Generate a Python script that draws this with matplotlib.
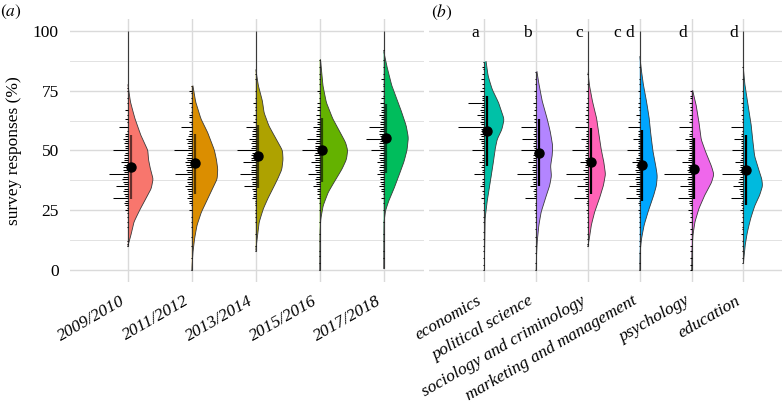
import numpy as np
import matplotlib.pyplot as plt
from matplotlib import transforms

plt.rcParams['font.family'] = ['Liberation Serif', 'Times New Roman', 'DejaVu Serif']
plt.rcParams['mathtext.fontset'] = 'stix'

# ---- panel (a): survey year ----
years = ['2009/2010', '2011/2012', '2013/2014', '2015/2016', '2017/2018']
year_colors = ['#F8766D', '#DB8E00', '#AEA200', '#64B200', '#00BD5C']
year_mean = [43.2, 44.6, 47.9, 50.4, 55.3]
year_bar_lo = [29.6, 31.7, 34.4, 36.8, 40.4]
year_bar_hi = [56.3, 57.0, 60.8, 63.6, 69.6]
year_min = [10, 0, 8, 0, 1]
year_max = [100, 77, 100, 88, 100]
# density outline (value, relative width)
year_dens = [
    [(10, 0), (14, 2.7), (20, 6), (25, 11.7), (30, 18.3), (34, 23.3), (38, 25.3), (42, 22.7),
     (46, 20.7), (50, 20), (56, 13.3), (63, 7.3), (70, 2.7), (77.5, 0)],
    [(0, 0), (7, 1), (13, 2.7), (18.5, 5), (24, 9.3), (29, 15), (34, 20.7), (38, 25.3), (42, 26),
     (46, 24.7), (50, 22.7), (57.4, 16), (63, 9.3), (70, 4), (77, 1)],
    [(8.3, 0), (14.3, 1.7), (19.9, 3.3), (25.4, 7.3), (29.6, 11.7), (33.75, 16.7), (37.9, 21.7),
     (42, 26), (46.2, 27.3), (50, 26.7), (54.6, 20.7), (60.1, 13.3), (65.7, 8.3), (70.6, 6.7),
     (76.8, 2.7), (83.75, 0)],
    [(0, 0), (15.7, 0.3), (21.25, 1), (26.8, 3.3), (32.4, 8.3), (37.9, 16), (42, 22), (46.2, 26.7),
     (50, 28), (53.2, 26), (57.4, 20.7), (63, 13.3), (69.9, 6.7), (76.8, 3.3), (82.4, 2), (88, 0.7)],
    [(1, 0), (19.9, 0.3), (24.7, 1.7), (28.9, 5), (33.75, 10), (39.3, 15), (44.9, 20), (50, 23.3),
     (55.3, 24.7), (60.1, 22.7), (65.7, 18.3), (71.25, 13.3), (76.8, 8.3), (83.75, 4), (91.4, 0)],
]
# response histogram (value, count)
year_rug = [
    [(10, 1), (11, 1), (12, 1), (18, 1), (20, 1), (22, 1), (24, 1), (25, 2), (26, 1), (27, 2), (28, 3),
     (29, 2), (30, 12), (31, 2), (32, 3), (33, 4), (34, 3), (35, 10), (36, 3), (37, 4), (38, 5), (39, 4),
     (40, 16), (41, 3), (42, 4), (43, 4), (44, 3), (45, 6), (46, 3), (47, 3), (48, 3), (49, 2), (50, 12),
     (51, 2), (52, 2), (53, 3), (54, 2), (55, 4), (56, 2), (57, 2), (58, 1), (60, 7), (62, 1), (63, 2),
     (65, 1), (67, 2), (70, 1), (72, 1), (75, 1), (76, 1)],
    [(0, 1), (5, 1), (10, 1), (14, 1), (18, 1), (20, 1), (22, 1), (25, 2), (27, 1), (28, 2), (29, 2),
     (30, 4), (31, 2), (32, 3), (33, 3), (34, 4), (35, 6), (36, 3), (37, 4), (38, 4), (39, 3), (40, 14),
     (41, 4), (42, 5), (43, 4), (44, 5), (45, 6), (46, 4), (47, 5), (48, 4), (49, 3), (50, 15), (51, 3),
     (52, 3), (53, 4), (54, 3), (55, 5), (56, 3), (57, 2), (58, 2), (60, 9), (61, 1), (62, 2), (64, 2),
     (65, 2), (66, 1), (68, 1), (70, 2), (72, 1), (74, 1), (75, 2), (77, 1)],
    [(8, 1), (10, 1), (15, 1), (20, 1), (22, 1), (24, 1), (25, 1), (27, 1), (28, 1), (29, 1), (30, 3),
     (31, 2), (32, 2), (33, 2), (34, 3), (35, 10), (36, 3), (37, 3), (38, 4), (39, 3), (40, 13), (41, 4),
     (42, 4), (43, 4), (44, 3), (45, 11), (46, 4), (47, 4), (48, 4), (49, 3), (50, 16), (51, 4), (52, 3),
     (53, 4), (54, 3), (55, 6), (56, 3), (57, 3), (58, 3), (59, 2), (60, 8), (62, 2), (63, 1), (65, 2),
     (67, 1), (68, 1), (70, 2), (72, 1), (75, 1), (80, 1), (82, 1)],
    [(0, 1), (3, 1), (6, 1), (8, 1), (12, 1), (15, 1), (20, 1), (25, 1), (28, 1), (30, 2), (31, 1),
     (32, 2), (33, 2), (34, 2), (35, 6), (36, 3), (37, 3), (38, 4), (39, 3), (40, 10), (41, 3), (42, 4),
     (43, 4), (44, 4), (45, 7), (46, 4), (47, 4), (48, 5), (49, 4), (50, 15), (51, 4), (52, 4), (53, 4),
     (54, 3), (55, 11), (56, 3), (57, 3), (58, 3), (59, 2), (60, 6), (61, 2), (62, 2), (63, 2), (65, 3),
     (67, 2), (68, 2), (70, 2), (72, 1), (74, 1), (75, 2), (78, 1), (80, 1), (82, 1), (85, 1), (88, 1)],
    [(1, 1), (5, 1), (8, 1), (12, 1), (15, 1), (20, 1), (25, 1), (28, 1), (30, 2), (32, 1), (33, 2),
     (34, 2), (35, 4), (36, 2), (37, 3), (38, 3), (39, 3), (40, 6), (41, 3), (42, 4), (43, 4), (44, 3),
     (45, 6), (46, 3), (47, 4), (48, 4), (49, 3), (50, 11), (51, 3), (52, 4), (53, 4), (54, 3), (55, 15),
     (56, 3), (57, 4), (58, 4), (59, 3), (60, 12), (61, 3), (62, 3), (63, 2), (64, 2), (65, 4), (66, 2),
     (67, 2), (68, 2), (70, 3), (72, 2), (73, 1), (75, 2), (77, 1), (78, 1), (80, 2), (82, 1), (85, 1),
     (88, 1), (92, 1)],
]

# ---- panel (b): discipline ----
fields = ['economics', 'political science', 'sociology and criminology',
          'marketing and management', 'psychology', 'education']
field_letters = ['a', 'b', 'c', 'c d', 'd', 'd']
field_colors = ['#00C1A7', '#B385FF', '#FF63B6', '#00A6FF', '#EF67EB', '#00BADE']
field_mean = [58.3, 49.0, 45.3, 43.75, 42.4, 41.8]
field_bar_lo = [43.5, 35.1, 31.7, 28.9, 29.6, 27.2]
field_bar_hi = [72.9, 63.0, 59.4, 58.75, 55.3, 56.6]
field_min = [0, 0, 10, 0, 0, 3]
field_max = [87, 83, 100, 100, 75, 100]
field_dens = [
    [(0, 0), (21.25, 0.7), (28.2, 2.7), (33.75, 5), (39.3, 7.3), (44.9, 9.3), (50, 11), (54.6, 13.3),
     (58.75, 18.3), (63, 20.7), (69.9, 15), (75.4, 8.3), (81, 4), (87.2, 1.7)],
    [(0, 0), (4.6, 0.2), (11.5, 1), (18.5, 2.7), (24, 5), (29.6, 9.3), (35.1, 14), (39.3, 16),
     (43.5, 15), (47.6, 16.7), (51.8, 17.3), (57.4, 15), (63, 11.7), (69.9, 6.7), (76.8, 3.3), (83, 0.7)],
    [(10.1, 0), (12.9, 1.3), (18.5, 3.3), (24, 6.7), (29.6, 11.7), (35.1, 16), (40, 18.3), (44.9, 16.7),
     (50, 14), (56, 11.7), (63, 9.3), (69.9, 5), (76.8, 1.7), (82.4, 0)],
    [(0, 0), (7.4, 0.3), (12.9, 1.7), (18.5, 4.3), (24, 8.3), (29.6, 13.3), (35.1, 17.3), (39.3, 18.3),
     (43.5, 16.7), (49, 14), (56, 11.7), (63, 10), (69.9, 7.3), (76.8, 4), (82.4, 2), (89.3, 0)],
    [(0, 0), (7.4, 0.3), (14.3, 1.3), (19.9, 3.3), (25.4, 7.3), (31, 13.3), (36.5, 20.7), (40, 23.3),
     (43.5, 20.7), (49, 15), (54.6, 10), (60.1, 8.3), (68.5, 5), (75.1, 1)],
    [(3.2, 0), (10.1, 1.7), (15.7, 4), (21.25, 7.3), (26.8, 11.7), (31, 16.7), (35.1, 20), (37.9, 19.3),
     (42, 16), (47.6, 11.7), (53.2, 10), (60.1, 8.3), (68.5, 5), (76.8, 1.7), (83.75, 0)],
]
field_rug = [
    [(0, 1), (2, 1), (5, 1), (8, 1), (10, 1), (13, 1), (16, 1), (20, 1), (22, 1), (25, 1), (28, 1),
     (30, 3), (32, 1), (33, 2), (35, 4), (36, 2), (37, 2), (38, 2), (40, 9), (41, 2), (42, 2), (43, 3),
     (44, 2), (45, 5), (46, 2), (47, 2), (48, 2), (50, 11), (51, 2), (52, 2), (53, 3), (54, 3), (55, 5),
     (56, 3), (57, 4), (58, 3), (59, 3), (60, 23), (61, 3), (62, 4), (63, 3), (64, 3), (65, 6), (66, 3),
     (67, 4), (68, 3), (69, 2), (70, 14), (71, 2), (72, 2), (73, 2), (75, 4), (76, 2), (78, 2), (80, 3),
     (82, 2), (84, 1), (85, 2), (87, 1)],
    [(0, 1), (3, 1), (7, 1), (10, 1), (14, 1), (17, 1), (20, 1), (22, 1), (24, 1), (25, 2), (27, 1),
     (28, 1), (30, 10), (31, 2), (32, 2), (33, 3), (34, 2), (35, 5), (36, 3), (37, 3), (38, 4), (39, 3),
     (40, 17), (41, 3), (42, 4), (43, 4), (44, 3), (45, 7), (46, 3), (47, 3), (48, 3), (49, 2), (50, 13),
     (51, 2), (52, 3), (53, 3), (54, 2), (55, 12), (56, 2), (57, 3), (58, 2), (59, 2), (60, 13), (62, 2),
     (63, 2), (65, 3), (67, 2), (68, 1), (70, 3), (72, 1), (73, 1), (75, 2), (78, 1), (80, 1), (83, 1)],
    [(10, 1), (11, 1), (13, 1), (15, 1), (18, 1), (20, 1), (22, 1), (24, 1), (25, 2), (27, 1), (28, 2),
     (29, 1), (30, 12), (31, 2), (32, 2), (33, 3), (34, 3), (35, 10), (36, 3), (37, 3), (38, 4), (39, 3),
     (40, 19), (41, 3), (42, 4), (43, 3), (44, 3), (45, 7), (46, 3), (47, 3), (48, 3), (49, 2), (50, 14),
     (51, 2), (52, 3), (53, 2), (54, 2), (55, 6), (56, 2), (57, 2), (58, 2), (60, 11), (62, 2), (63, 2),
     (65, 3), (67, 2), (68, 2), (70, 2), (72, 1), (75, 2), (78, 1), (82, 1)],
    [(0, 1), (3, 1), (7, 1), (10, 1), (12, 1), (15, 1), (18, 1), (20, 1), (22, 1), (24, 1), (25, 2),
     (27, 1), (28, 2), (29, 1), (30, 12), (31, 2), (32, 3), (33, 3), (34, 3), (35, 9), (36, 3), (37, 3),
     (38, 4), (39, 3), (40, 19), (41, 3), (42, 4), (43, 3), (44, 3), (45, 7), (46, 3), (47, 3), (48, 2),
     (49, 2), (50, 11), (51, 2), (52, 2), (53, 2), (54, 2), (55, 6), (56, 2), (57, 2), (58, 2), (60, 10),
     (62, 2), (63, 1), (65, 3), (67, 1), (68, 2), (70, 2), (72, 1), (75, 2), (78, 1), (80, 1), (85, 1)],
    [(0, 1), (2, 1), (5, 1), (8, 1), (10, 1), (13, 1), (15, 1), (17, 1), (20, 2), (22, 1), (24, 1),
     (25, 3), (27, 1), (28, 2), (29, 2), (30, 12), (31, 2), (32, 3), (33, 3), (34, 3), (35, 10), (36, 3),
     (37, 3), (38, 4), (39, 3), (40, 24), (41, 3), (42, 4), (43, 3), (44, 3), (45, 8), (46, 3), (47, 3),
     (48, 2), (49, 2), (50, 14), (51, 2), (52, 2), (53, 2), (54, 2), (55, 6), (56, 2), (57, 2), (58, 1),
     (60, 11), (62, 2), (63, 1), (65, 2), (67, 1), (68, 1), (70, 2), (72, 1), (73, 1), (75, 1)],
    [(3, 1), (5, 1), (8, 1), (10, 1), (12, 1), (15, 2), (17, 1), (18, 1), (20, 2), (22, 1), (24, 1),
     (25, 3), (26, 1), (27, 2), (28, 2), (29, 1), (30, 11), (31, 2), (32, 3), (33, 3), (34, 4), (35, 9),
     (36, 3), (37, 5), (38, 4), (39, 3), (40, 19), (41, 3), (42, 4), (43, 3), (44, 3), (45, 7), (46, 3),
     (47, 2), (48, 2), (49, 2), (50, 10), (51, 2), (52, 2), (53, 2), (54, 2), (55, 8), (56, 2), (57, 2),
     (58, 1), (60, 11), (62, 1), (63, 1), (65, 2), (67, 1), (68, 1), (70, 2), (72, 1), (75, 1), (80, 1),
     (85, 1)],
]

W, H = 782, 404
FS = 12.5
fig = plt.figure(figsize=(W / 100, H / 100), dpi=100)
ax_a = fig.add_axes([70 / W, 122 / H, 354 / W, 263 / H])
ax_b = fig.add_axes([429 / W, 122 / H, 353 / W, 263 / H])


def smooth(a, k=11):
    pad = k // 2
    return np.convolve(np.pad(a, pad, mode='edge'), np.ones(k) / k, mode='valid')


def draw_panel(ax, labels, colors, dens, rug, vmin, vmax, bar_lo, bar_hi, means, px_unit, bar_alpha):
    n = len(labels)
    ax.set_xlim(1 - 0.905 * 64 / px_unit, n + 0.63 * 64 / px_unit)
    ax.set_ylim(-5, 105)
    for i in range(n):
        x0 = i + 1
        v = np.array([p[0] for p in dens[i]])
        w = np.array([p[1] for p in dens[i]])
        yy = np.linspace(v.min(), v.max(), 400)
        ww = smooth(np.interp(yy, v, w)) / px_unit
        ax.fill_betweenx(yy, x0, x0 + ww, facecolor=colors[i], edgecolor='none', zorder=2)
        ax.plot(x0 + ww, yy, color='#3a3a3a', lw=0.6, zorder=3)
        ax.vlines(x0, vmin[i], vmax[i], color='#3a3a3a', lw=0.8, zorder=3)
        for val, c in rug[i]:
            ax.hlines(val, x0 - c * 1.2 / px_unit, x0, color='black', lw=0.75, zorder=3)
        off = 2.7 / px_unit
        ax.vlines(x0 + off, bar_lo[i], bar_hi[i], color='black', alpha=bar_alpha, lw=1.6, zorder=4)
        ax.plot(x0 + off, means[i], 'o', color='black', ms=6.5, zorder=5)

    ax.set_xticks(np.arange(1, n + 1))
    ax.set_xticklabels(labels, rotation=30, ha='right', va='top', style='italic', fontsize=FS)
    shift = transforms.ScaledTranslation(7 / 100, -5 / 100, fig.dpi_scale_trans)
    for t in ax.get_xticklabels():
        t.set_transform(t.get_transform() + shift)
    ax.set_yticks([0, 25, 50, 75, 100])
    ax.set_yticks([12.5, 37.5, 62.5, 87.5], minor=True)
    ax.grid(which='major', color='#dadada', lw=1.0, zorder=0)
    ax.grid(which='minor', axis='y', color='#e2e2e2', lw=0.7, zorder=0)
    ax.set_axisbelow(True)
    ax.tick_params(which='both', length=0, labelsize=FS, pad=8)
    for s in ax.spines.values():
        s.set_visible(False)


draw_panel(ax_a, years, year_colors, year_dens, year_rug, year_min, year_max,
           year_bar_lo, year_bar_hi, year_mean, 64.0, 0.6)
draw_panel(ax_b, fields, field_colors, field_dens, field_rug, field_min, field_max,
           field_bar_lo, field_bar_hi, field_mean, 54.2, 1.0)

ax_a.set_ylabel('survey responses (%)', fontsize=FS, labelpad=8)
ax_b.tick_params(axis='y', labelleft=False)

lshift = transforms.ScaledTranslation(-5 / 100, 0, fig.dpi_scale_trans)
for i, lab in enumerate(field_letters):
    ax_b.text(i + 1, 97.5, lab, ha='right', va='baseline', fontsize=FS,
              transform=ax_b.transData + lshift)

fig.text(0 / W, 1 - 12 / H, r'$(\mathit{a})$', fontsize=FS, va='center', ha='left')
fig.text(431 / W, 1 - 12 / H, r'$(\mathit{b})$', fontsize=FS, va='center', ha='left')

fig.savefig('out.png', dpi=100)
